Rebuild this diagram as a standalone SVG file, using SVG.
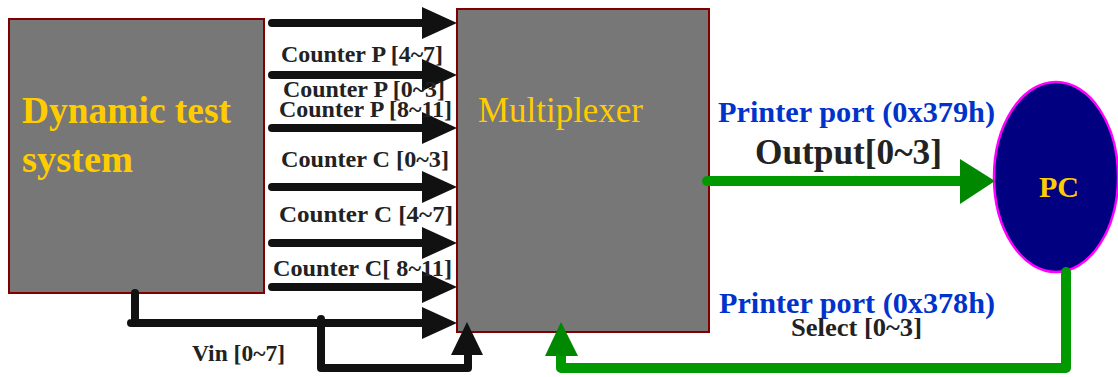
<svg xmlns="http://www.w3.org/2000/svg" width="1118" height="377" viewBox="0 0 1118 377">
  <style>
    .box { fill: #777777; stroke: #800000; stroke-width: 2; }
    .bus { fill: none; stroke: #111111; stroke-width: 8; stroke-linecap: round; stroke-linejoin: round; }
    .head { fill: #111111; }
    .gbus { fill: none; stroke: #009900; stroke-width: 10; stroke-linecap: round; stroke-linejoin: round; }
    .ghead { fill: #008800; }
    text { font-family: "Liberation Serif", Tinos, "Times New Roman", serif; }
    .lbl { font-weight: bold; fill: #222222; }
    .port { font-weight: bold; font-size: 30px; fill: #0033CC; }
    .ttl { fill: #FFCC00; }
  </style>

  <!-- source block -->
  <g id="dynamic-test-system">
    <rect class="box" x="9" y="19" width="255" height="274"/>
    <text class="ttl" x="22" y="123" font-size="37" font-weight="bold" textLength="209" lengthAdjust="spacingAndGlyphs">Dynamic test</text>
    <text class="ttl" x="22" y="172" font-size="37" font-weight="bold" textLength="111" lengthAdjust="spacingAndGlyphs">system</text>
  </g>

  <!-- multiplexer block -->
  <g id="multiplexer">
    <rect class="box" x="457" y="9" width="252" height="323"/>
    <text class="ttl" x="478" y="122" font-size="35" textLength="165" lengthAdjust="spacingAndGlyphs">Multiplexer</text>
  </g>

  <!-- host computer -->
  <g id="pc">
    <ellipse cx="1056" cy="177" rx="62" ry="95" fill="#000080" stroke="#FF00FF" stroke-width="2.5"/>
    <text class="ttl" x="1039" y="197" font-size="30" font-weight="bold" textLength="40" lengthAdjust="spacingAndGlyphs">PC</text>
  </g>

  <!-- data and control lines -->
  <g id="connectors">
    <!-- counter buses into multiplexer -->
    <path class="bus" d="M272 23 H424"/>
    <polygon class="head" points="422,7 457,23 422,39"/>
    <path class="bus" d="M272 75 H424"/>
    <polygon class="head" points="422,59 457,75 422,91"/>
    <path class="bus" d="M272 128 H424"/>
    <polygon class="head" points="422,112 457,128 422,144"/>
    <path class="bus" d="M272 187 H424"/>
    <polygon class="head" points="422,171 457,187 422,203"/>
    <path class="bus" d="M272 243 H424"/>
    <polygon class="head" points="422,227 457,243 422,259"/>
    <path class="bus" d="M272 287 H424"/>
    <polygon class="head" points="422,271 457,287 422,303"/>

    <!-- Vin bus with branch -->
    <path class="bus" d="M135 293 V323 M131 323 H424"/>
    <polygon class="head" points="422,307 457,323 422,339"/>
    <path class="bus" d="M321 319 V368 H468 V353"/>
    <polygon class="head" points="451,355 467,322 483,355"/>

    <!-- output port to PC -->
    <path class="gbus" d="M707 181 H962"/>
    <polygon class="ghead" points="960,159 995,181 960,204"/>

    <!-- select port back from PC -->
    <path class="gbus" d="M1066 272 V368 H561 V353"/>
    <polygon class="ghead" points="545,356 561,322 578,356"/>
  </g>

  <!-- bus labels -->
  <g id="labels">
    <text class="lbl" x="281" y="62" font-size="24" textLength="162" lengthAdjust="spacingAndGlyphs">Counter P [4~7]</text>
    <text class="lbl" x="283" y="97" font-size="24" textLength="162" lengthAdjust="spacingAndGlyphs">Counter P [0~3]</text>
    <text class="lbl" x="279" y="117" font-size="24" textLength="173" lengthAdjust="spacingAndGlyphs">Counter P [8~11]</text>
    <text class="lbl" x="281" y="167" font-size="24" textLength="168" lengthAdjust="spacingAndGlyphs">Counter C [0~3]</text>
    <text class="lbl" x="279" y="222" font-size="24" textLength="174" lengthAdjust="spacingAndGlyphs">Counter C [4~7]</text>
    <text class="lbl" x="273" y="276" font-size="24" textLength="179" lengthAdjust="spacingAndGlyphs">Counter C[ 8~11]</text>
    <text class="lbl" x="192" y="361" font-size="23" textLength="93" lengthAdjust="spacingAndGlyphs">Vin [0~7]</text>
    <text class="port" x="718" y="122" textLength="277" lengthAdjust="spacingAndGlyphs">Printer port (0x379h)</text>
    <text class="lbl" x="755" y="164" font-size="35" textLength="187" lengthAdjust="spacingAndGlyphs">Output[0~3]</text>
    <text class="port" x="719" y="313" textLength="276" lengthAdjust="spacingAndGlyphs">Printer port (0x378h)</text>
    <text class="lbl" x="791" y="336" font-size="26" textLength="131" lengthAdjust="spacingAndGlyphs">Select [0~3]</text>
  </g>
</svg>
